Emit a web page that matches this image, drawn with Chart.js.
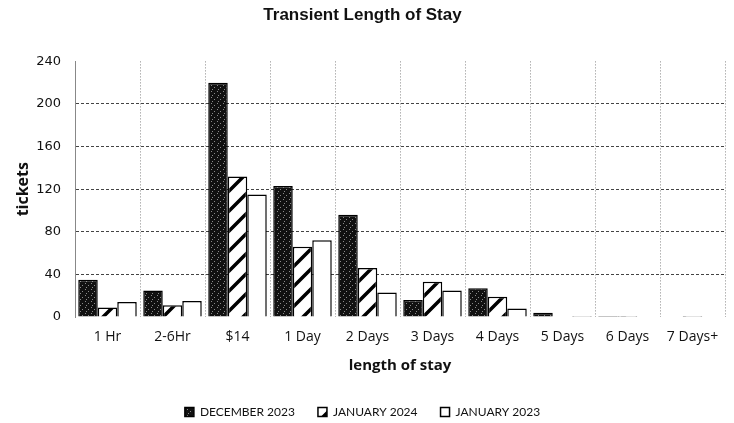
<!DOCTYPE html>
<html>
<head>
<meta charset="utf-8">
<script src="https://cdn.jsdelivr.net/npm/chart.js@4/dist/chart.umd.min.js"></script>
<style>
  html, body { margin: 0; padding: 0; background: #fff; }
  #wrap { width: 734px; height: 423px; }
</style>
</head>
<body>
<div id="wrap"><canvas id="stay"></canvas></div>
<script>
const categories = ['1 Hr', '2-6Hr', '$14', '1 Day', '2 Days', '3 Days', '4 Days', '5 Days', '6 Days', '7 Days+'];
const dec2023 = [35, 25, 220, 123, 96, 16, 27, 4, 1, 0];
const jan2024 = [9, 11, 132, 66, 46, 33, 19, 0, 1, 1];
const jan2023 = [14, 15, 115, 72, 23, 25, 8, 1, 0, 0];
const yTicks = [0, 40, 80, 120, 160, 200, 240];

// speckled black fill, like the scanned dark bars
const darkPattern = () => {
  const c = document.createElement('canvas');
  c.width = 6; c.height = 6;
  const g = c.getContext('2d');
  g.fillStyle = '#111';
  g.fillRect(0, 0, 6, 6);
  g.fillStyle = '#8a8a8a';
  g.fillRect(1, 1, 1, 1);
  g.fillRect(4, 3, 1, 1);
  g.fillRect(2, 5, 1, 1);
  return g.createPattern(c, 'repeat');
};

// thick "/" stripes on white
const hatchPattern = () => {
  const s = 20;
  const c = document.createElement('canvas');
  c.width = s; c.height = s;
  const g = c.getContext('2d');
  g.fillStyle = '#fff';
  g.fillRect(0, 0, s, s);
  g.strokeStyle = '#000';
  g.lineWidth = 3.5;
  g.beginPath();
  g.moveTo(-5, s + 5); g.lineTo(s + 5, -5);
  g.moveTo(-5, 5); g.lineTo(5, -5);
  g.moveTo(s - 5, s + 5); g.lineTo(s + 5, s - 5);
  g.stroke();
  return g.createPattern(c, 'repeat');
};

const el = document.querySelector('#stay');

new Chart(el, {
  type: 'bar',
  data: {
    labels: categories,
    datasets: [
      { label: 'DECEMBER 2023', data: dec2023, backgroundColor: darkPattern(), borderColor: '#000', borderWidth: 1.5 },
      { label: 'JANUARY 2024', data: jan2024, backgroundColor: hatchPattern(), borderColor: '#000', borderWidth: 1.5 },
      { label: 'JANUARY 2023', data: jan2023, backgroundColor: '#fff', borderColor: '#000', borderWidth: 1.5 },
    ],
  },
  options: {
    responsive: true,
    maintainAspectRatio: false,
    animation: false,
    layout: { padding: { left: 0, right: 9, top: 0, bottom: -5 } },
    datasets: { bar: { categoryPercentage: 0.9, barPercentage: 1.0 } },
    plugins: {
      title: {
        display: true,
        text: 'Transient Length of Stay',
        color: '#111',
        font: { family: 'Liberation Sans', size: 17, weight: 'bold' },
        padding: { top: 5, bottom: 36 },
      },
      legend: {
        position: 'bottom',
        labels: {
          color: '#111',
          font: { family: 'Lato', size: 12 },
          boxWidth: 9,
          boxHeight: 9,
          padding: 23,
        },
      },
      tooltip: { enabled: false },
    },
    scales: {
      x: {
        afterFit: (axis) => { axis.height = 66; },
        grid: { color: '#888', drawTicks: false, offset: true },
        border: { display: false, dash: [1, 2] },
        ticks: { color: '#111', font: { family: 'Open Sans', size: 14 }, padding: 12 },
        title: {
          display: true,
          text: 'length of stay',
          color: '#111',
          font: { family: 'Open Sans', size: 15, weight: 'bold' },
          padding: { top: 0, bottom: 8.5 },
        },
      },
      y: {
        min: 0,
        max: 240,
        afterBuildTicks: (axis) => { axis.ticks = yTicks.map((v) => ({ value: v })); },
        afterFit: (axis) => { axis.width = 75; },
        grid: {
          drawTicks: false,
          // no rule at 0 or at the top tick in the original
          color: (ctx) => (ctx.tick && (ctx.tick.value === 0 || ctx.tick.value === 240) ? 'rgba(0,0,0,0)' : '#444'),
        },
        border: { display: true, color: '#888', dash: [3, 2] },
        ticks: { color: '#111', font: { family: 'DejaVu Sans', size: 13 }, padding: 14 },
        title: {
          display: true,
          text: 'tickets',
          color: '#111',
          font: { family: 'Open Sans', size: 16, weight: 'bold' },
          padding: { top: 14, bottom: 0 },
        },
      },
    },
  },
});
</script>
</body>
</html>
